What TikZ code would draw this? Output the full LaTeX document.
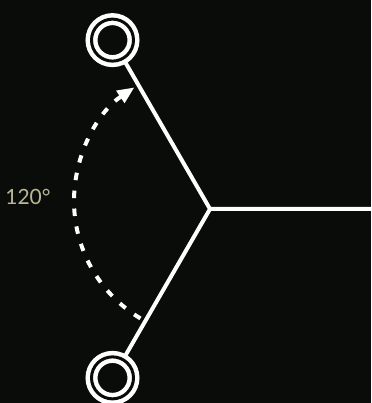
\documentclass[tikz,border=0pt]{standalone}
\usepackage{fontspec}
\setmainfont{Lato}
\usetikzlibrary{arrows.meta}
\definecolor{labelgray}{RGB}{186,182,150}
\definecolor{bgblack}{RGB}{10,12,9}
\tikzset{
	ring/.style={circle, draw=white, double=bgblack, line width=4.5pt, double distance=3pt,
		inner sep=0pt, outer sep=4pt, minimum size=42pt},
	bond/.style={white, line width=4pt, line cap=round, line join=round},
	turn/.style={white, line width=4pt, dash pattern=on 7.5pt off 10.5pt, -{Triangle[length=17pt,width=14pt]}}
}
\begin{document}
\begin{tikzpicture}[x=1pt, y=1pt, font=\fontsize{21}{24}\selectfont]
	\fill[bgblack] (0,0) rectangle (371,403);
	\useasboundingbox (0,0) rectangle (371,403);
	\path
	(210,194) coordinate (O)
	(371,194) coordinate (C)
	(O)+(1,8) coordinate (M);
	\foreach \p/\g in {A/120,B/240}
	\node[ring] (\p) at ([shift={(\g:195)}]O) {};
	\draw[bond] (A)--(O)--(B) (O)--(C);
	\draw[turn] ([shift={(239:137)}]M) arc[start angle=239, end angle=124, radius=137];
	\node[text=labelgray] (ang) at (28,206) {120°};
\end{tikzpicture}
\end{document}
